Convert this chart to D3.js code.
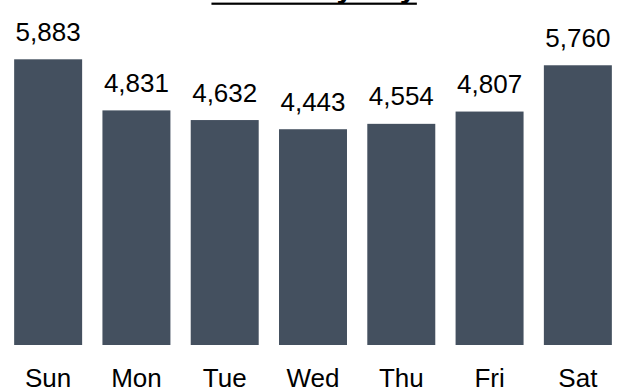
<!DOCTYPE html>
<html>
<head>
<meta charset="utf-8">
<script src="https://cdn.jsdelivr.net/npm/d3@7/dist/d3.min.js"></script>
<style>
  html, body { margin: 0; padding: 0; background: #fff; }
  svg { display: block; }
</style>
</head>
<body>
<script>
const title = "Orders by Day";
const categories = ["Sun", "Mon", "Tue", "Wed", "Thu", "Fri", "Sat"];
const values = [5883, 4831, 4632, 4443, 4554, 4807, 5760];

const W = 623, H = 391;
const svg = d3.select("body").append("svg").attr("width", W).attr("height", H);

const x = d3.scaleBand().domain(categories).range([4, 622])
  .paddingInner(0.23).paddingOuter(0.115);
const y = d3.scaleLinear().domain([0, 5883]).range([345, 59.3]);

const fmt = d3.format(",");

const t = svg.append("text")
  .attr("x", 314).attr("y", -1.8)
  .attr("text-anchor", "middle")
  .attr("font-family", "Liberation Sans, Arial, sans-serif")
  .attr("font-weight", "bold")
  .attr("font-size", 30)
  .attr("fill", "#000")
  .text(title);
const tb = t.node().getBBox();
svg.append("rect")
  .attr("x", tb.x).attr("width", tb.width)
  .attr("y", 2.6).attr("height", 2.2)
  .attr("fill", "#000");

svg.selectAll("rect.bar").data(values).enter().append("rect")
  .attr("class", "bar")
  .attr("x", (d, i) => x(categories[i]))
  .attr("width", x.bandwidth())
  .attr("y", d => y(d))
  .attr("height", d => y(0) - y(d))
  .attr("fill", "#44505f");

svg.selectAll("text.val").data(values).enter().append("text")
  .attr("class", "val")
  .attr("x", (d, i) => x(categories[i]) + x.bandwidth() / 2)
  .attr("y", d => y(d) - 18.5)
  .attr("text-anchor", "middle")
  .attr("font-family", "Liberation Sans, Arial, sans-serif")
  .attr("font-size", 26)
  .attr("fill", "#000")
  .text(d => fmt(d));

const xAxis = d3.axisBottom(x).tickSize(0).tickPadding(0);
const gx = svg.append("g").attr("transform", "translate(0,345)").call(xAxis);
gx.select(".domain").remove();
gx.selectAll("text")
  .attr("y", 41.5).attr("dy", 0)
  .attr("font-family", "Liberation Sans, Arial, sans-serif")
  .attr("font-size", 26)
  .attr("fill", "#000");
</script>
</body>
</html>
